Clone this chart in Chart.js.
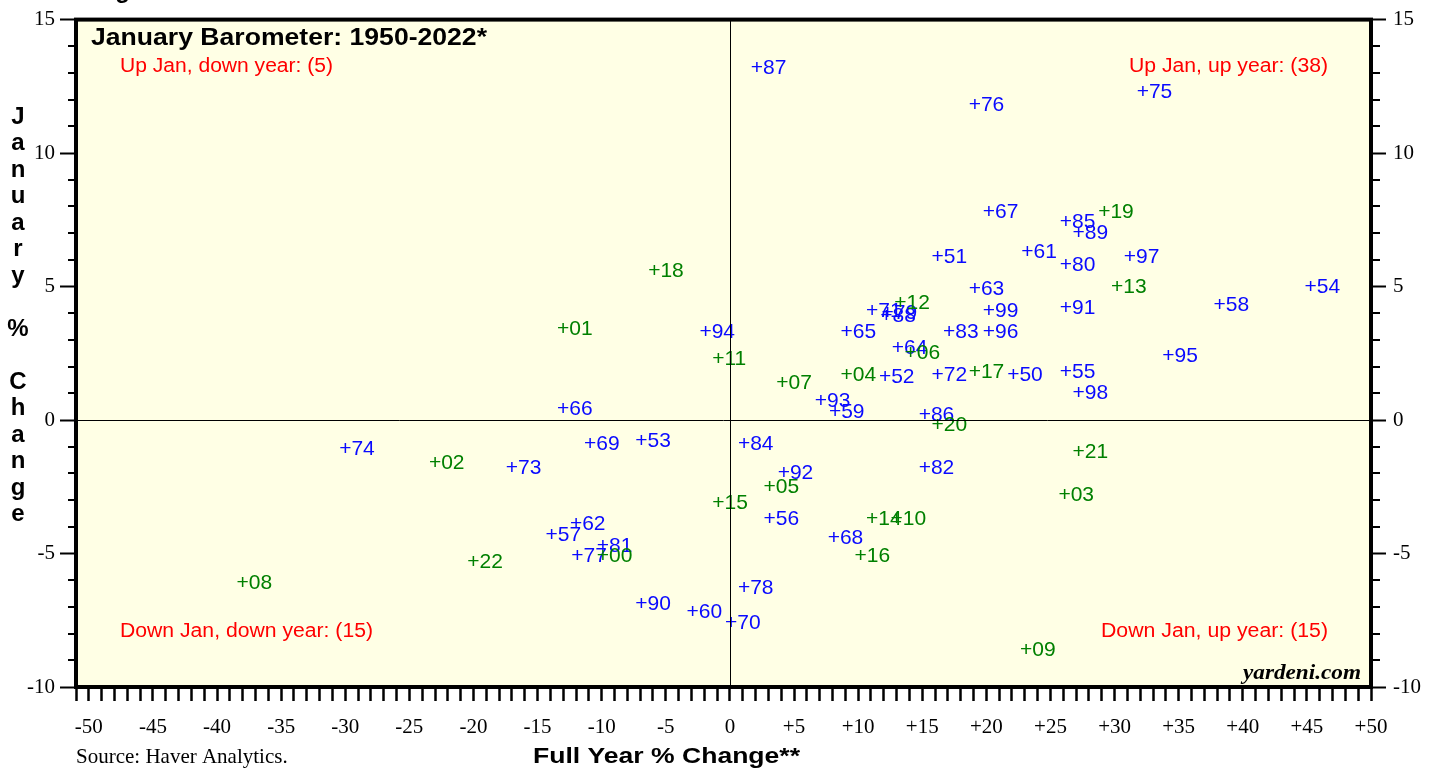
<!DOCTYPE html>
<html>
<head>
<meta charset="utf-8">
<title>January Barometer</title>
<script src="https://cdn.jsdelivr.net/npm/chart.js@4/dist/chart.umd.min.js"></script>
<style>
  html, body { margin: 0; padding: 0; background: #fff; }
  #chart { display: block; }
</style>
</head>
<body>
<canvas id="chart" width="1437" height="768"></canvas>
<script>
// year labels (two digits), full year % change (x) and January % change (y)
const years = ['50','51','52','53','54','55','56','57','58','59',
               '60','61','62','63','64','65','66','67','68','69',
               '70','71','72','73','74','75','76','77','78','79',
               '80','81','82','83','84','85','86','87','88','89',
               '90','91','92','93','94','95','96','97','98','99',
               '00','01','02','03','04','05','06','07','08','09',
               '10','11','12','13','14','15','16','17','18','19',
               '20','21','22'];
const fullYear = [22.1, 16.2, 12.1, -6.9, 45.3, 26.2, 3.1, -13.9, 38.2, 8.2,
                  -2.9, 23.2, -12.0, 19.1, 13.1, 9.1, -13.0, 20.2, 8.1, -10.9,
                  0.1, 11.1, 16.2, -17.0, -30.0, 32.2, 19.1, -11.9, 1.1, 12.3,
                  26.2, -9.9, 15.2, 17.1, 1.1, 26.2, 15.2, 2.1, 12.2, 27.2,
                  -6.9, 26.2, 4.2, 7.1, -1.9, 34.2, 20.2, 31.2, 27.2, 20.2,
                  -9.9, -13.0, -23.0, 26.1, 9.1, 3.1, 14.1, 4.1, -38.0, 23.1,
                  13.0, -0.9, 13.3, 30.2, 11.1, -0.9, 10.2, 19.1, -5.9, 29.2,
                  16.2, 27.2, -20.0];
const january = [1.7, 6.1, 1.6, -0.8, 5.0, 1.8, -3.7, -4.3, 4.3, 0.3,
                 -7.2, 6.3, -3.9, 4.9, 2.7, 3.3, 0.4, 7.8, -4.4, -0.9,
                 -7.6, 4.1, 1.7, -1.8, -1.1, 12.3, 11.8, -5.1, -6.3, 4.0,
                 5.8, -4.7, -1.8, 3.3, -0.9, 7.4, 0.2, 13.2, 3.9, 7.0,
                 -6.9, 4.2, -2.0, 0.7, 3.3, 2.4, 3.3, 6.1, 1.0, 4.1,
                 -5.1, 3.4, -1.6, -2.8, 1.7, -2.5, 2.5, 1.4, -6.1, -8.6,
                 -3.7, 2.3, 4.4, 5.0, -3.7, -3.1, -5.1, 1.8, 5.6, 7.8,
                 -0.2, -1.2, -5.3];

const xTickValues = [-50, -45, -40, -35, -30, -25, -20, -15, -10, -5, 0, 5, 10, 15, 20, 25, 30, 35, 40, 45, 50];
const yTickValues = [-10, -5, 0, 5, 10, 15];

const quadrantNotes = {
    upDown: 'Up Jan, down year: (5)',
    upUp: 'Up Jan, up year: (38)',
    downDown: 'Down Jan, down year: (15)',
    downUp: 'Down Jan, up year: (15)'
};

const blue = 'rgb(10, 10, 255)';
const green = 'rgb(0, 128, 0)';
const red = 'rgb(255, 0, 0)';
const cream = 'rgb(255, 255, 229)';
const sans = '"Liberation Sans", Arial, Helvetica, sans-serif';
const serif = '"Liberation Serif", "Times New Roman", Times, serif';

const points = years.map((yr, i) => ({ x: fullYear[i], y: january[i] }));

function fmtX(v) {
    if (v > 0) return '+' + v;
    return String(v);
}

// draws text, optionally stretched horizontally to a given width
function drawText(ctx, text, x, y, font, color, align, width) {
    ctx.save();
    ctx.font = font;
    ctx.fillStyle = color;
    ctx.textAlign = 'left';
    ctx.textBaseline = 'alphabetic';
    const w = ctx.measureText(text).width;
    const sx = width ? width / w : 1;
    let x0 = x;
    if (align === 'right') x0 = x - w * sx;
    else if (align === 'center') x0 = x - w * sx / 2;
    ctx.translate(x0, y);
    ctx.scale(sx, 1);
    ctx.fillText(text, 0, 0);
    ctx.restore();
}

const backgroundPlugin = {
    id: 'background',
    beforeDraw(chart) {
        const { ctx, chartArea: a } = chart;
        ctx.save();
        ctx.fillStyle = '#fff';
        ctx.fillRect(0, 0, chart.width, chart.height);
        ctx.fillStyle = cream;
        ctx.fillRect(a.left, a.top, a.right - a.left, a.bottom - a.top);
        ctx.restore();
    }
};

// year labels: the "+" sits on the point, the two digits follow it
const yearLabelsPlugin = {
    id: 'yearLabels',
    afterDatasetsDraw(chart) {
        const { ctx } = chart;
        const meta = chart.getDatasetMeta(0);
        ctx.save();
        ctx.font = '21px ' + sans;
        ctx.textAlign = 'left';
        ctx.textBaseline = 'alphabetic';
        const plusW = ctx.measureText('+').width;
        meta.data.forEach((pt, i) => {
            const yr = years[i];
            ctx.fillStyle = parseInt(yr, 10) < 50 ? green : blue;
            ctx.fillText('+' + yr, pt.x - plusW / 2, pt.y + 6);
        });
        ctx.restore();
    }
};

const framePlugin = {
    id: 'frame',
    afterDraw(chart) {
        const { ctx, chartArea: a, scales } = chart;
        ctx.save();

        // zero lines
        ctx.strokeStyle = '#000';
        ctx.lineWidth = 1;
        const x0 = Math.round(scales.x.getPixelForValue(0)) + 0.5;
        const y0 = Math.round(scales.y.getPixelForValue(0)) + 0.5;
        ctx.beginPath();
        ctx.moveTo(x0, a.top);
        ctx.lineTo(x0, a.bottom);
        ctx.moveTo(a.left, y0);
        ctx.lineTo(a.right, y0);
        ctx.stroke();

        // minor ticks on both y axes
        ctx.lineWidth = 2;
        ctx.beginPath();
        for (let v = -10; v <= 15; v++) {
            if (v % 5 === 0) continue;
            const py = Math.round(scales.y.getPixelForValue(v));
            ctx.moveTo(a.left - 8, py);
            ctx.lineTo(a.left, py);
            ctx.moveTo(a.right, py);
            ctx.lineTo(a.right + 9, py);
        }
        ctx.stroke();

        // plot frame
        ctx.lineWidth = 4;
        ctx.strokeRect(a.left, a.top, a.right - a.left, a.bottom - a.top);
        ctx.restore();

        // texts
        drawText(ctx, 'Figure', 94, -2, 'bold 24px ' + sans, '#000');
        drawText(ctx, 'January Barometer: 1950-2022*', 91, 45, 'bold 23px ' + sans, '#000', 'left', 396);
        drawText(ctx, quadrantNotes.upDown, 120, 72, '20px ' + sans, red, 'left', 213);
        drawText(ctx, quadrantNotes.upUp, 1328, 72, '20px ' + sans, red, 'right', 199);
        drawText(ctx, quadrantNotes.downDown, 120, 637, '20px ' + sans, red, 'left', 253);
        drawText(ctx, quadrantNotes.downUp, 1328, 637, '20px ' + sans, red, 'right', 227);
        drawText(ctx, 'yardeni.com', 1361, 679, 'italic bold 22px ' + serif, '#000', 'right', 118);

        // y axis title, stacked letters
        const yTitle = 'January % Change';
        for (let i = 0; i < yTitle.length; i++) {
            drawText(ctx, yTitle[i], 18, 124 + i * 26.47, 'bold 24px ' + sans, '#000', 'center');
        }
        drawText(ctx, 'Full Year % Change**', 533, 763, 'bold 22px ' + sans, '#000', 'left', 267);
        drawText(ctx, 'Source: Haver Analytics.', 76, 763, '21px ' + serif, '#000', 'left');
    }
};

const tickFont = { family: serif, size: 21 };

new Chart(document.getElementById('chart'), {
    type: 'scatter',
    data: {
        datasets: [{
            data: points,
            pointRadius: 0,
            pointHoverRadius: 0
        }]
    },
    options: {
        responsive: false,
        animation: false,
        events: [],
        layout: { padding: { top: 16, left: 0, right: 0, bottom: 0 } },
        plugins: {
            legend: { display: false },
            tooltip: { enabled: false }
        },
        scales: {
            x: {
                type: 'linear',
                position: 'bottom',
                min: -51,
                max: 50,
                afterFit: s => { s.height = 81; },
                ticks: {
                    stepSize: 1,
                    autoSkip: false,
                    maxRotation: 0,
                    minRotation: 0,
                    padding: 14,
                    color: '#000',
                    font: tickFont,
                    callback: v => xTickValues.includes(v) ? fmtX(v) : ''
                },
                grid: { drawOnChartArea: false, tickLength: 14, tickWidth: 2.5, tickColor: '#000' },
                border: { display: false }
            },
            y: {
                type: 'linear',
                position: 'left',
                min: -10,
                max: 15,
                afterFit: s => { s.width = 76; },
                ticks: {
                    stepSize: 5,
                    padding: 5,
                    color: '#000',
                    font: tickFont,
                    callback: v => yTickValues.includes(v) ? String(v) : ''
                },
                grid: { drawOnChartArea: false, tickLength: 16, tickWidth: 2, tickColor: '#000' },
                border: { display: false }
            },
            y2: {
                type: 'linear',
                position: 'right',
                min: -10,
                max: 15,
                afterFit: s => { s.width = 66; },
                ticks: {
                    stepSize: 5,
                    padding: 7,
                    color: '#000',
                    font: tickFont,
                    callback: v => yTickValues.includes(v) ? String(v) : ''
                },
                grid: { drawOnChartArea: false, tickLength: 15, tickWidth: 2, tickColor: '#000' },
                border: { display: false }
            }
        }
    },
    plugins: [backgroundPlugin, yearLabelsPlugin, framePlugin]
});
</script>
</body>
</html>
